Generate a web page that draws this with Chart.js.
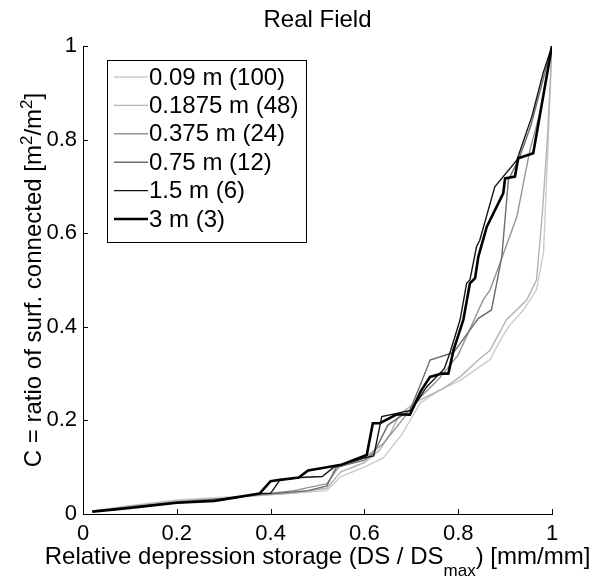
<!DOCTYPE html>
<html>
<head>
<meta charset="utf-8">
<script src="https://cdn.jsdelivr.net/npm/chart.js@4"></script>
<style>
  html, body { margin: 0; padding: 0; background: #fff; }
  #wrap { width: 596px; height: 579px; }
</style>
</head>
<body>
<div id="wrap"><canvas id="myChart" width="596" height="579"></canvas></div>
<script>
// series labels and colours (MATLAB grey ramp)
const labels = ['0.09 m (100)', '0.1875 m (48)', '0.375 m (24)', '0.75 m (12)', '1.5 m (6)', '3 m (3)'];
const colors = ['#cbcbcb', '#b3b3b3', '#959595', '#6c6c6c', '#141414', '#000000'];
const widths = [1.4, 1.4, 1.4, 1.4, 1.4, 2.6];

// x = relative depression storage, y = ratio connected
const x009 = [0.02, 0.1, 0.2, 0.3, 0.38, 0.45, 0.52, 0.55, 0.6, 0.64, 0.68, 0.719, 0.761, 0.804, 0.839, 0.868, 0.889, 0.907, 0.939, 0.967, 0.982, 0.99, 1];
const y009 = [0.006, 0.018, 0.03, 0.036, 0.04, 0.045, 0.05, 0.08, 0.1, 0.12, 0.17, 0.237, 0.265, 0.285, 0.31, 0.33, 0.37, 0.4, 0.436, 0.479, 0.56, 0.75, 1];

const x01875 = [0.02, 0.1, 0.2, 0.3, 0.38, 0.45, 0.52, 0.55, 0.6, 0.633, 0.655, 0.676, 0.719, 0.768, 0.804, 0.843, 0.868, 0.903, 0.946, 0.967, 0.98, 0.99, 1];
const y01875 = [0.006, 0.017, 0.028, 0.034, 0.04, 0.045, 0.055, 0.09, 0.11, 0.137, 0.172, 0.215, 0.244, 0.268, 0.293, 0.329, 0.35, 0.415, 0.457, 0.5, 0.65, 0.8, 1];

const x0375 = [0.02, 0.1, 0.2, 0.3, 0.38, 0.45, 0.52, 0.545, 0.6, 0.64, 0.68, 0.72, 0.76, 0.8, 0.853, 0.868, 0.889, 0.925, 0.953, 0.975, 1];
const y0375 = [0.005, 0.015, 0.026, 0.033, 0.042, 0.05, 0.065, 0.1, 0.12, 0.15, 0.2, 0.25, 0.29, 0.34, 0.457, 0.479, 0.536, 0.635, 0.778, 0.86, 1];

const x075 = [0.02, 0.1, 0.2, 0.3, 0.38, 0.42, 0.48, 0.52, 0.54, 0.6, 0.62, 0.65, 0.697, 0.719, 0.74, 0.79, 0.843, 0.871, 0.893, 0.907, 0.93, 0.955, 1];
const y075 = [0.005, 0.014, 0.025, 0.032, 0.042, 0.045, 0.05, 0.06, 0.1, 0.115, 0.13, 0.19, 0.222, 0.275, 0.329, 0.345, 0.418, 0.436, 0.55, 0.714, 0.76, 0.83, 1];

const x15 = [0.02, 0.1, 0.2, 0.28, 0.33, 0.38, 0.4, 0.42, 0.463, 0.51, 0.535, 0.56, 0.6, 0.62, 0.637, 0.669, 0.7, 0.733, 0.77, 0.782, 0.804, 0.818, 0.825, 0.839, 0.846, 0.878, 0.925, 0.957, 0.981, 1];
const y15 = [0.005, 0.013, 0.024, 0.028, 0.036, 0.044, 0.044, 0.073, 0.078, 0.08, 0.1, 0.108, 0.12, 0.124, 0.208, 0.215, 0.222, 0.272, 0.31, 0.343, 0.415, 0.493, 0.5, 0.571, 0.585, 0.699, 0.756, 0.849, 0.942, 1];

const x3 = [0.02, 0.1, 0.2, 0.28, 0.33, 0.377, 0.4, 0.42, 0.46, 0.48, 0.52, 0.55, 0.605, 0.618, 0.633, 0.669, 0.697, 0.72, 0.74, 0.765, 0.779, 0.79, 0.811, 0.825, 0.836, 0.843, 0.861, 0.896, 0.9, 0.921, 0.928, 0.96, 1];
const y3 = [0.005, 0.013, 0.024, 0.028, 0.036, 0.044, 0.07, 0.073, 0.078, 0.093, 0.1, 0.105, 0.126, 0.194, 0.194, 0.213, 0.212, 0.262, 0.293, 0.3, 0.3, 0.35, 0.415, 0.493, 0.504, 0.55, 0.614, 0.685, 0.717, 0.721, 0.76, 0.771, 1];

const xs = [x009, x01875, x0375, x075, x15, x3];
const ys = [y009, y01875, y0375, y075, y15, y3];

const tickVals = [0, 0.2, 0.4, 0.6, 0.8, 1];

const FONT = "'Liberation Sans', Arial, sans-serif";

const datasets = labels.map((lab, i) => ({
  label: lab,
  data: xs[i].map((x, j) => ({ x: x, y: ys[i][j] })),
  borderColor: colors[i],
  borderWidth: widths[i],
  pointRadius: 0,
  tension: 0,
  fill: false,
  order: labels.length - i
}));

// titles, inward ticks and boxed legend drawn by hand (MATLAB look)
const matlabBits = {
  id: 'matlabBits',
  afterDraw(chart) {
    const ctx = chart.ctx;
    const a = chart.chartArea;
    const xs_ = chart.scales.x, ys_ = chart.scales.y;
    ctx.save();
    ctx.strokeStyle = '#000';
    ctx.lineWidth = 1;
    // inward ticks
    tickVals.forEach(v => {
      const px = Math.round(xs_.getPixelForValue(v)) + 0.5;
      ctx.beginPath(); ctx.moveTo(px, a.bottom); ctx.lineTo(px, a.bottom - 5); ctx.stroke();
      const py = Math.round(ys_.getPixelForValue(v)) + 0.5;
      ctx.beginPath(); ctx.moveTo(a.left, py); ctx.lineTo(a.left + 5, py); ctx.stroke();
    });

    ctx.fillStyle = '#000';
    const cx = (a.left + a.right) / 2;
    // title
    ctx.font = '24px ' + FONT;
    ctx.textAlign = 'center';
    ctx.textBaseline = 'alphabetic';
    ctx.fillText('Real Field', cx, 27);

    // x title with subscript
    const p1 = 'Relative depression storage (DS / DS', sub = 'max', p2 = ') [mm/mm]';
    ctx.font = '24px ' + FONT;
    const w1 = ctx.measureText(p1).width, w3 = ctx.measureText(p2).width;
    ctx.font = '17px ' + FONT;
    const w2 = ctx.measureText(sub).width;
    let sx = cx - (w1 + w2 + w3) / 2;
    ctx.textAlign = 'left';
    ctx.font = '24px ' + FONT;
    ctx.fillText(p1, sx, 564);
    ctx.font = '17px ' + FONT;
    ctx.fillText(sub, sx + w1, 576);
    ctx.font = '24px ' + FONT;
    ctx.fillText(p2, sx + w1 + w2, 564);

    // y title with superscripts, rotated
    const parts = [['C = ratio of surf. connected [m', 0], ['2', 1], ['/m', 0], ['2', 1], [']', 0]];
    let tw = 0;
    parts.forEach(p => { ctx.font = (p[1] ? '17px ' : '24px ') + FONT; p.push(ctx.measureText(p[0]).width); tw += p[2]; });
    ctx.translate(41, (a.top + a.bottom) / 2);
    ctx.rotate(-Math.PI / 2);
    let ox = -tw / 2;
    parts.forEach(p => {
      ctx.font = (p[1] ? '17px ' : '24px ') + FONT;
      ctx.fillText(p[0], ox, p[1] ? -9 : 0);
      ox += p[2];
    });
    ctx.restore();

    // legend box
    ctx.save();
    const bl = a.left + 24, bt = a.top + 14, bw = 199, bh = 182;
    ctx.fillStyle = '#fff';
    ctx.fillRect(bl, bt, bw, bh);
    ctx.strokeStyle = '#000';
    ctx.lineWidth = 1;
    ctx.strokeRect(bl + 0.5, bt + 0.5, bw, bh);
    ctx.font = '24px ' + FONT;
    ctx.textBaseline = 'middle';
    ctx.textAlign = 'left';
    labels.forEach((lab, i) => {
      const ry = bt + 17 + i * 28.4;
      ctx.strokeStyle = colors[i];
      ctx.lineWidth = widths[i];
      ctx.beginPath(); ctx.moveTo(bl + 7, ry); ctx.lineTo(bl + 41, ry); ctx.stroke();
      ctx.fillStyle = '#000';
      ctx.fillText(lab, bl + 42, ry + 1);
    });
    ctx.restore();
  }
};

const fmt = v => String(Number(v.toFixed(2)));

new Chart(document.getElementById('myChart').getContext('2d'), {
  type: 'line',
  data: { datasets: datasets },
  options: {
    responsive: false,
    animation: false,
    layout: { padding: { left: 0, top: 46, right: 44, bottom: 0 } },
    plugins: { legend: { display: false }, tooltip: { enabled: false } },
    scales: {
      x: {
        type: 'linear', min: 0, max: 1,
        afterFit: s => { s.height = 65; },
        grid: { display: false, drawTicks: false },
        border: { display: true, color: '#000', width: 1 },
        ticks: { stepSize: 0.2, color: '#000', padding: 7, maxRotation: 0, callback: fmt, font: { family: FONT, size: 22 } }
      },
      y: {
        type: 'linear', min: 0, max: 1,
        afterFit: s => { s.width = 83; },
        grid: { display: false, drawTicks: false },
        border: { display: true, color: '#000', width: 1 },
        ticks: { stepSize: 0.2, color: '#000', padding: 6, callback: fmt, font: { family: FONT, size: 22 } }
      }
    }
  },
  plugins: [matlabBits]
});
</script>
</body>
</html>
